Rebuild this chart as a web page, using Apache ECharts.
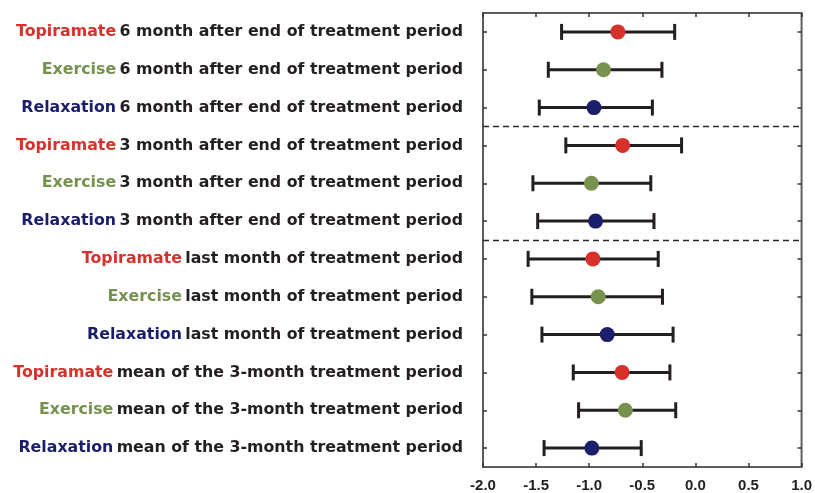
<!DOCTYPE html>
<html>
<head>
<meta charset="utf-8">
<script src="https://cdn.jsdelivr.net/npm/echarts@6/dist/echarts.min.js"></script>
<style>
html,body{margin:0;padding:0;background:#fff;}
#chart{width:815px;height:493px;}
</style>
</head>
<body>
<div id="chart"></div>
<script>
// ---- data ----
const treatments = ['Topiramate', 'Exercise', 'Relaxation'];
const treatmentColors = ['#d6312b', '#76924e', '#1b1f6b'];
const periods = [
  '6 month after end of treatment period',
  '3 month after end of treatment period',
  'last month of treatment period',
  'mean of the 3-month treatment period'
];
// rows: top to bottom (period-major, treatment-minor)
const estimate = [-0.73, -0.865, -0.955, -0.685, -0.98, -0.94, -0.965, -0.915, -0.83, -0.69, -0.66, -0.975];
const lower    = [-1.26, -1.385, -1.47, -1.22, -1.53, -1.485, -1.575, -1.54, -1.445, -1.15, -1.10, -1.425];
const upper    = [-0.195, -0.315, -0.405, -0.13, -0.42, -0.39, -0.35, -0.31, -0.21, -0.24, -0.185, -0.51];
const separators = [3, 6];
const xTicks = { min: -2.0, max: 1.0, step: 0.5 };

// ---- build ----
const rowTreat = [], categories = [];
periods.forEach((p, pi) => treatments.forEach((t, ti) => {
  rowTreat.push(ti);
  categories.push(t + '|' + p);
}));

const FONT = 'DejaVu Sans';
const rich = { b: { color: '#231f20', fontFamily: FONT, fontWeight: 'bold', fontSize: 15.8 } };
treatments.forEach((t, i) => {
  rich['t' + i] = { color: treatmentColors[i], fontFamily: FONT, fontWeight: 'bold', fontSize: 15.8 };
});

const chart = echarts.init(document.getElementById('chart'), null, { renderer: 'canvas' });
const frameColor = '#5c5c5c';
const tickStyle = { show: true, inside: true, length: 4, lineStyle: { color: '#333', width: 1.5 } };

chart.setOption({
  animation: false,
  backgroundColor: '#fff',
  grid: { left: 483, right: 13, top: 13, bottom: 25, show: true, borderColor: frameColor, borderWidth: 2, backgroundColor: 'transparent' },
  xAxis: [{
    type: 'value', min: xTicks.min, max: xTicks.max, interval: xTicks.step,
    position: 'bottom',
    axisLine: { show: false, onZero: false },
    axisTick: tickStyle,
    splitLine: { show: false },
    axisLabel: { margin: 11, color: '#231f20', fontFamily: 'Liberation Sans', fontWeight: 'bold', fontSize: 15, formatter: v => v.toFixed(1) }
  }, {
    type: 'value', min: xTicks.min, max: xTicks.max, interval: xTicks.step,
    position: 'top',
    axisLine: { show: false, onZero: false },
    axisTick: tickStyle,
    splitLine: { show: false },
    axisLabel: { show: false }
  }],
  yAxis: [{
    type: 'category', data: categories, inverse: true, position: 'left',
    axisLine: { show: false, onZero: false },
    axisTick: Object.assign({ alignWithLabel: true }, tickStyle),
    axisLabel: {
      margin: 20,
      formatter: (v, i) => {
        const parts = v.split('|');
        return '{t' + rowTreat[i] + '|' + parts[0] + '} {b|' + parts[1] + '}';
      },
      rich: rich
    }
  }, {
    type: 'category', data: categories, inverse: true, position: 'right',
    axisLine: { show: false, onZero: false },
    axisTick: Object.assign({ alignWithLabel: true }, tickStyle),
    axisLabel: { show: false }
  }, {
    type: 'value', min: 0, max: categories.length, inverse: true, show: false,
    axisLine: { onZero: false }
  }],
  series: [{
    type: 'custom',
    xAxisIndex: 0, yAxisIndex: 0,
    data: categories.map((c, i) => [i, lower[i], upper[i]]),
    encode: { y: 0, x: [1, 2] },
    renderItem: (params, api) => {
      const i = api.value(0);
      const a = api.coord([api.value(1), i]);
      const b = api.coord([api.value(2), i]);
      const h = 8;
      const style = { stroke: '#231f20', lineWidth: 3, fill: null };
      return {
        type: 'group',
        children: [
          { type: 'line', shape: { x1: a[0], y1: a[1], x2: b[0], y2: b[1] }, style: style },
          { type: 'line', shape: { x1: a[0], y1: a[1] - h, x2: a[0], y2: a[1] + h }, style: style },
          { type: 'line', shape: { x1: b[0], y1: b[1] - h, x2: b[0], y2: b[1] + h }, style: style }
        ]
      };
    },
    z: 2
  }, {
    type: 'scatter',
    xAxisIndex: 0, yAxisIndex: 0,
    symbol: 'circle', symbolSize: 15,
    itemStyle: { opacity: 1 },
    data: estimate.map((v, i) => ({ value: [v, i], itemStyle: { color: treatmentColors[rowTreat[i]], opacity: 1 } })),
    z: 3
  }, {
    type: 'line',
    xAxisIndex: 0, yAxisIndex: 2,
    data: [],
    markLine: {
      silent: true, symbol: 'none', label: { show: false },
      lineStyle: { type: [6, 4], color: '#2a2a2a', width: 1.3 },
      data: separators.map(s => ({ yAxis: s }))
    }
  }]
});
</script>
</body>
</html>
